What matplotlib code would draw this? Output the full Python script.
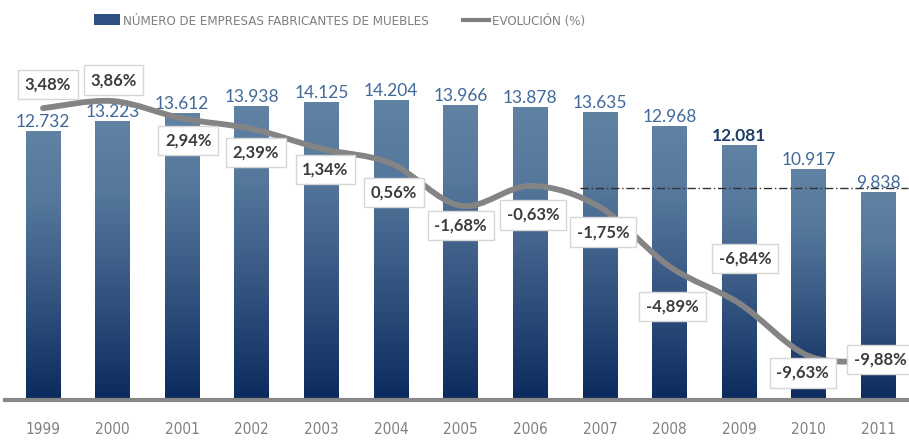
import matplotlib
matplotlib.use("Agg")
import matplotlib.pyplot as plt
import numpy as np
from matplotlib.colors import LinearSegmentedColormap
from matplotlib.path import Path
from matplotlib.patches import PathPatch, Patch
from matplotlib.lines import Line2D
from matplotlib.font_manager import FontProperties

# data
years = ['1999', '2000', '2001', '2002', '2003', '2004', '2005',
         '2006', '2007', '2008', '2009', '2010', '2011']
empresas = [12732, 13223, 13612, 13938, 14125, 14204, 13966,
            13878, 13635, 12968, 12081, 10917, 9838]
evolucion = [3.48, 3.86, 2.94, 2.39, 1.34, 0.56, -1.68,
             -0.63, -1.75, -4.89, -6.84, -9.63, -9.88]
empresas_labels = ['12.732', '13.223', '13.612', '13.938', '14.125', '14.204', '13.966',
                   '13.878', '13.635', '12.968', '12.081', '10.917', '9.838']
evolucion_labels = ['3,48%', '3,86%', '2,94%', '2,39%', '1,34%', '0,56%', '-1,68%',
                    '-0,63%', '-1,75%', '-4,89%', '-6,84%', '-9,63%', '-9,88%']
ref_level = 10050  # dash-dot reference line (bar scale)

# label box offsets from the line points, in pixels (dx right, dy down)
pct_offsets = [(5, -24), (1, -21), (6, 22), (4, 24), (4, 21), (3, 29), (0, 20),
               (3, 29), (3, 25), (3, 40), (6, -45), (-6, 17), (2, -1)]

NUM = ['Lato', 'DejaVu Sans']
PX = 0.72  # points per pixel at dpi 100

def narrow(size):
    return FontProperties(family='DejaVu Sans', stretch='condensed', size=size)

fig = plt.figure(figsize=(9.09, 4.41), dpi=100)
fig.patch.set_facecolor('white')
ax = fig.add_axes([0, 41 / 441, 1, 340 / 441])
ax2 = ax.twinx()

x = np.arange(len(years))

# gradient bars
cmap = LinearSegmentedColormap.from_list(
    'bars', [(0, '#0b2b5e'), (0.45, '#3b5b86'), (0.75, '#55789c'), (1, '#6082a3')])
grad = np.linspace(0, 1, 256).reshape(-1, 1)
bars = ax.bar(x, empresas, width=0.5, color='none', edgecolor='none', zorder=2)
for b in bars:
    x0, w, h = b.get_x(), b.get_width(), b.get_height()
    im = ax.imshow(grad, extent=[x0, x0 + w, 0, h], origin='lower',
                   aspect='auto', cmap=cmap, zorder=2)
    im.set_clip_path(b)
ax.set_xlim(-0.618, 12.44)
ax.set_ylim(0, 340 * 47.35)
ax2.set_ylim(-226 / 18.9, 114 / 18.9)

# bar value labels
for i, (v, lab) in enumerate(zip(empresas, empresas_labels)):
    bold = lab == '12.081'
    ax.annotate(lab, (x[i], v), xytext=(0, 4 * PX), textcoords='offset points',
                ha='center', va='baseline', fontsize=12.5, family=NUM,
                color='#1f3d66' if bold else '#40699a',
                fontweight='bold' if bold else 'normal', zorder=3)

# dash-dot reference line
ax.hlines(ref_level, 7.72, 12.42, colors='#333333', linestyles=(0, (6, 2, 1, 2)),
          linewidth=1, zorder=3)

# smooth evolution line (cubic bezier through the points)
pts = np.column_stack([x, evolucion])
ext = np.vstack([pts[0], pts, pts[-1]])
verts = [pts[0]]
codes = [Path.MOVETO]
for k in range(len(pts) - 1):
    p0, p1, p2, p3 = ext[k], ext[k + 1], ext[k + 2], ext[k + 3]
    verts += [p1 + (p2 - p0) / 6, p2 - (p3 - p1) / 6, p2]
    codes += [Path.CURVE4] * 3
ax2.add_patch(PathPatch(Path(verts, codes), fill=False, edgecolor='#848484',
                        linewidth=4.2, capstyle='round', zorder=4))

for i, (v, lab) in enumerate(zip(evolucion, evolucion_labels)):
    dx, dy = pct_offsets[i]
    ax2.annotate(lab, (x[i], v), xytext=(dx * PX, -dy * PX), textcoords='offset points',
                 ha='center', va='center', fontsize=12, family=NUM, fontweight='bold',
                 color='#3c3c3c', zorder=6,
                 bbox=dict(boxstyle='square,pad=0.4', fc='white', ec='#d6d6d6', lw=1))

# axes styling
for a in (ax, ax2):
    for s in a.spines.values():
        s.set_visible(False)
ax.spines['bottom'].set_visible(True)
ax.spines['bottom'].set_color('#878787')
ax.spines['bottom'].set_linewidth(3)
ax.spines['bottom'].set_bounds(-0.55, 12.44)
ax.set_yticks([])
ax2.set_yticks([])
ax.set_xticks(x)
ax.set_xticklabels(years, color='#808080')
for t in ax.get_xticklabels():
    t.set_fontproperties(narrow(11))
ax.tick_params(axis='x', length=0, pad=22 * PX)
ax.set_zorder(1)
ax2.set_zorder(2)
ax.patch.set_visible(False)
ax2.patch.set_visible(False)

# legend
handles = [Patch(facecolor='#2c5182', edgecolor='none'),
           Line2D([0], [0], color='#808080', linewidth=3)]
fig.legend(handles, ['NÚMERO DE EMPRESAS FABRICANTES DE MUEBLES', 'EVOLUCIÓN (%)'],
           loc='center left', bbox_to_anchor=(87 / 909, 1 - 21 / 441), ncol=2,
           frameon=False, prop=narrow(9.5), labelcolor='#7f7f7f',
           handlelength=2.0, handletextpad=0.2, columnspacing=2.6, borderpad=0,
           handleheight=0.9)

fig.savefig('out.png', dpi=100, facecolor='white')
